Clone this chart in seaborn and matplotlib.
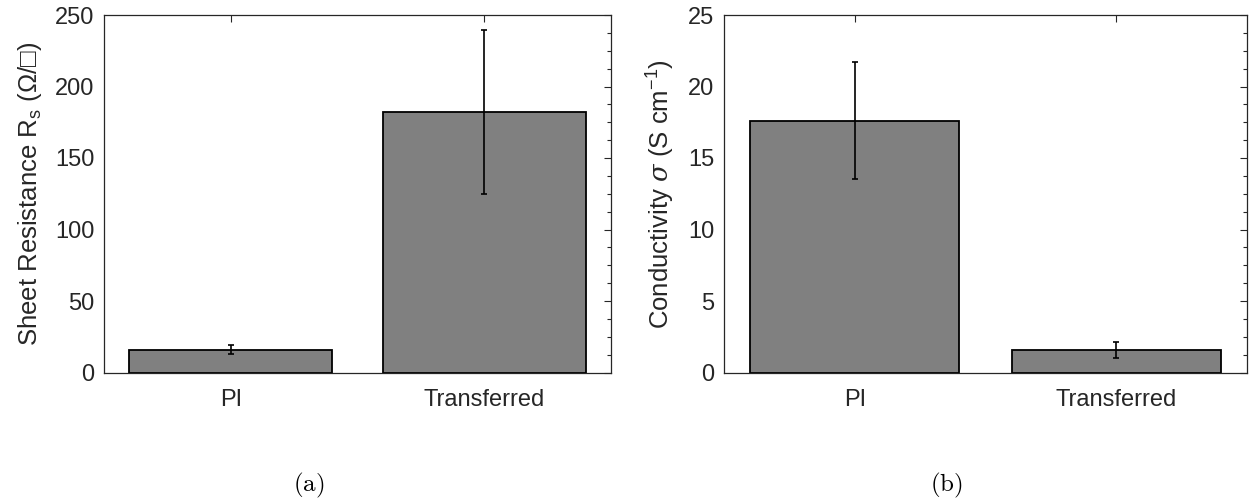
import numpy as np
import pandas as pd
import matplotlib
matplotlib.use("Agg")
import matplotlib.pyplot as plt
from matplotlib.ticker import MultipleLocator, AutoMinorLocator
import seaborn as sns

# ---- data ----
categories = ["PI", "Transferred"]
sheet_resistance = [16.0, 182.0]
sheet_resistance_err = [3.0, 57.5]
conductivity = [17.6, 1.55]
conductivity_err = [4.1, 0.56]

sns.set_theme(style="white")
plt.rcParams["font.family"] = ["Liberation Sans", "DejaVu Sans"]
plt.rcParams["mathtext.fontset"] = "custom"
plt.rcParams["mathtext.rm"] = "Liberation Sans"
plt.rcParams["mathtext.it"] = "DejaVu Serif:italic"

TXT = "#262626"
fig = plt.figure(figsize=(12.52, 4.99), dpi=100)
ax1 = fig.add_axes([104/1252, 1-372.5/499, (611-104)/1252, (372.5-15)/499])
ax2 = fig.add_axes([724/1252, 1-372.5/499, (1247-724)/1252, (372.5-15)/499])

def panel(ax, vals, errs, ymax, major, ylabel):
    df = pd.DataFrame({"cat": categories, "val": vals})
    sns.barplot(data=df, x="cat", y="val", ax=ax, color="#808080", saturation=1,
                width=0.8, edgecolor="black", linewidth=1.3, errorbar=None)
    ax.errorbar(np.arange(len(categories)), vals, yerr=errs, fmt="none",
                ecolor="black", elinewidth=1.2, capsize=2.5, capthick=1.2, zorder=5)
    ax.set_xlim(-0.5, len(categories) - 0.5)
    ax.set_ylim(0, ymax)
    ax.yaxis.set_major_locator(MultipleLocator(major))
    ax.yaxis.set_minor_locator(AutoMinorLocator(4))
    ax.tick_params(axis="both", which="both", direction="in", top=True, right=True,
                   colors=TXT, labelsize=17)
    ax.tick_params(axis="both", which="major", length=5, width=0.8)
    ax.tick_params(axis="y", which="minor", length=3, width=0.8)
    ax.tick_params(axis="x", which="both", pad=12)
    ax.tick_params(axis="y", which="both", pad=7)
    for s in ax.spines.values():
        s.set_visible(True)
        s.set_color(TXT)
        s.set_linewidth(0.9)
    ax.set_xlabel("")
    ax.set_ylabel(ylabel, fontsize=18.5, color=TXT, labelpad=8)

panel(ax1, sheet_resistance, sheet_resistance_err, 250, 50,
      r"Sheet Resistance R$_{\mathrm{s}}$ (Ω/□)")
panel(ax2, conductivity, conductivity_err, 25, 5,
      r"Conductivity $\sigma$ (S cm$^{\mathrm{-1}}$)")

fig.text(309/1252, 1-485/499, r"$\mathrm{(a)}$", ha="center", va="center",
         fontsize=18, math_fontfamily="cm", color="black")
fig.text(946/1252, 1-485/499, r"$\mathrm{(b)}$", ha="center", va="center",
         fontsize=18, math_fontfamily="cm", color="black")

fig.savefig("out.png", dpi=100, facecolor="white")
